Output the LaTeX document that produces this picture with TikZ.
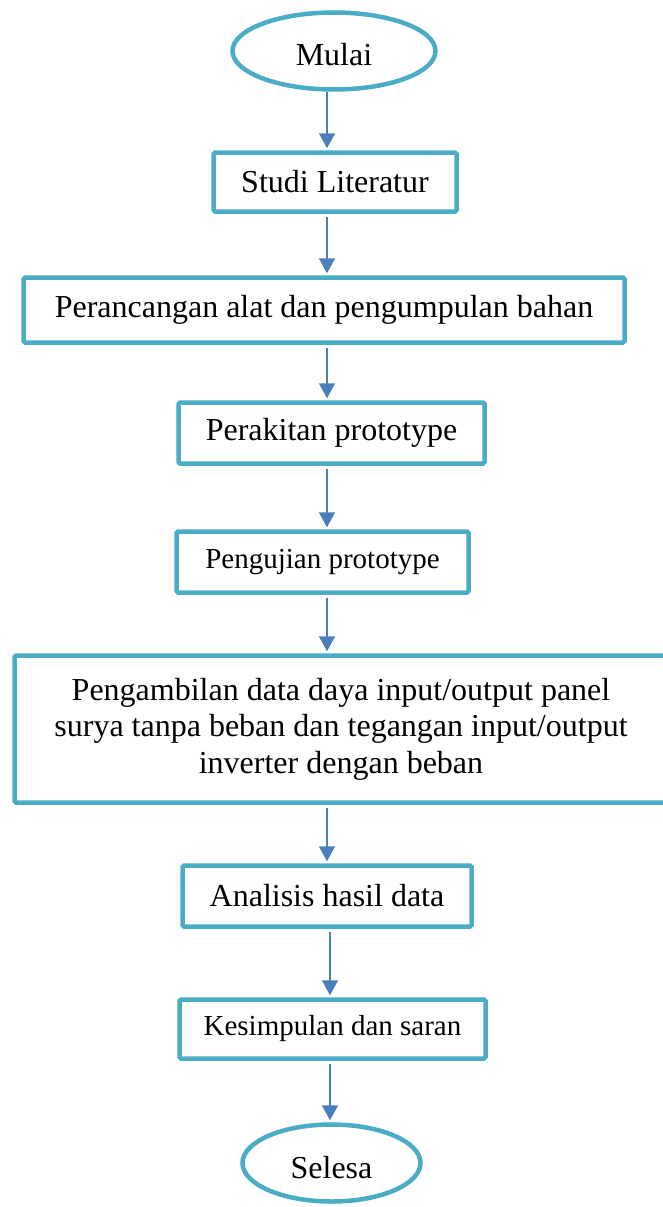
\documentclass[tikz,border=0pt]{standalone}
\usepackage{fontspec}
\setmainfont{Liberation Serif}
\usetikzlibrary{arrows.meta,shapes.geometric}
\definecolor{boxline}{RGB}{75,172,198}
\definecolor{arrowline}{RGB}{74,126,187}
\begin{document}
\begin{tikzpicture}[x=1pt,y=-1pt,
    every node/.style={font=\fontsize{32}{36.5}\selectfont},
    proc/.style={draw=boxline,line width=4.5pt,rounded corners=1.5pt,inner sep=0pt},
    term/.style={draw=boxline,line width=4.5pt,ellipse,inner sep=0pt,text height=30pt,text depth=0pt},
    small/.style={font=\fontsize{29}{33}\selectfont},
    >={Triangle[length=15pt,width=16pt]},
    every edge/.style={draw=arrowline,line width=1.6pt,shorten <=3pt,shorten >=2pt}]
        \useasboundingbox (0,0) rectangle (662,1207);
        \def\x{327}
        \def\xx{330}
        \node[term,minimum width=203pt,minimum height=77pt] (A0_0) at (334,51) {Mulai};
        \node[proc,minimum width=243pt,minimum height=59pt] (A1_0) at (335,182) {Studi Literatur};
        \node[proc,minimum width=601pt,minimum height=65pt] (A2_0) at (324,310) {Perancangan alat dan pengumpulan bahan};
        \node[proc,minimum width=306pt,minimum height=61pt] (A3_0) at (331.5,433) {Perakitan prototype};
        \node[proc,small,minimum width=292pt,minimum height=61pt] (A4_0) at (322.5,562) {Pengujian prototype};
        \node[proc,minimum width=653pt,minimum height=147pt,align=center] (A5_0) at (341,729)
          {Pengambilan data daya input/output panel\\surya tanpa beban dan tegangan input/output\\inverter dengan beban};
        \node[proc,minimum width=289pt,minimum height=61pt] (A6_0) at (327,896) {Analisis hasil data};
        \node[proc,small,minimum width=306pt,minimum height=59pt] (A7_0) at (332.5,1029) {Kesimpulan dan saran};
        \node[term,minimum width=178pt,minimum height=77pt] (A8_0) at (331.5,1163) {Selesa};
        \path (A0_0.south -| \x,0) edge [->,shorten <=0pt] (A1_0.north -| \x,0);
        \path (A1_0.south -| \x,0) edge [->] (A2_0.north -| \x,0);
        \path (A2_0.south -| \x,0) edge [->] (A3_0.north -| \x,0);
        \path (A3_0.south -| \x,0) edge [->] (A4_0.north -| \x,0);
        \path (A4_0.south -| \x,0) edge [->] (A5_0.north -| \x,0);
        \path (A5_0.south -| \x,0) edge [->] (A6_0.north -| \x,0);
        \path (A6_0.south -| \xx,0) edge [->] (A7_0.north -| \xx,0);
        \path (A7_0.south -| \xx,0) edge [->] (A8_0.north -| \xx,0);
      \end{tikzpicture}
\end{document}
